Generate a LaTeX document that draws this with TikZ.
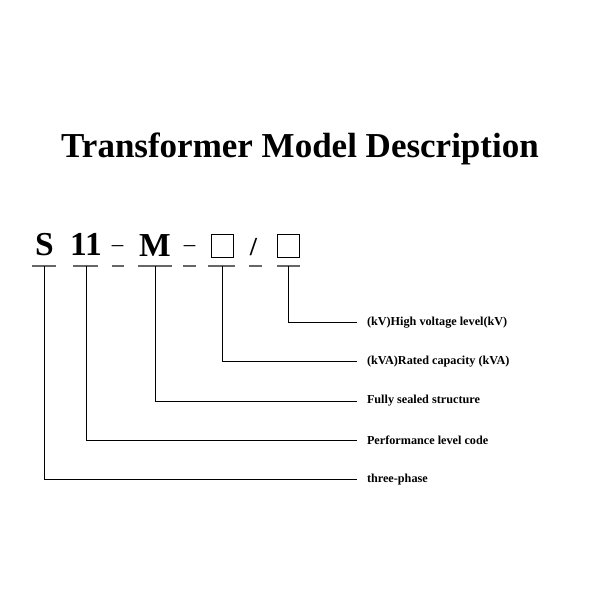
\documentclass[tikz,border=0pt]{standalone}
\usepackage{fontspec}
\setmainfont{Liberation Serif}
\begin{document}
\begin{tikzpicture}[x=1pt,y=-1pt,
  title/.style={font=\fontsize{35}{40}\selectfont\bfseries, inner sep=0pt, anchor=base},
  code/.style={font=\fontsize{33.5}{38}\selectfont\bfseries, inner sep=0pt, anchor=base},
  sym/.style={font=\fontsize{23}{27}\selectfont, inner sep=0pt, anchor=base},
  slot/.style={draw, line width=0.8pt, minimum width=22pt, minimum height=23pt, inner sep=0pt},
  under/.style={draw=black!60, line width=1.6pt},
  conn/.style={draw, line width=0.8pt},
  label/.style={font=\fontsize{12.2}{14}\selectfont\bfseries, inner xsep=0pt, inner ysep=1pt, outer xsep=10pt, anchor=west}
]
\useasboundingbox (0,0) rectangle (600,600);
\node[title] (t) at (300,157) {Transformer Model Description};
% code row
\node[code] (s) at (44.5,255) {S};
\node[code] (n11) at (86,255) {11};
\node[sym] (d1) at (117.5,251.5) {–};
\node[code] (m) at (155,256) {M};
\node[sym] (d2) at (189.5,251.5) {–};
\node[slot] (b1) at (222,245.5) {};
\node[sym, font=\fontsize{26}{30}\selectfont\bfseries] (sl) at (253.5,255.5) {/};
\node[slot] (b2) at (288,245.5) {};
% underscores
\coordinate (us) at (44,266);
\coordinate (un) at (86,266);
\coordinate (um) at (155,266);
\coordinate (ub1) at (222,266);
\coordinate (ub2) at (288,266);
\draw[under] (32,266) -- (56,266);
\draw[under] (73,266) -- (98,266);
\draw[under] (112,266) -- (124,266);
\draw[under] (138,266) -- (172,266);
\draw[under] (183,266) -- (196,266);
\draw[under] (208,266) -- (235,266);
\draw[under] (249,266) -- (262,266);
\draw[under] (277,266) -- (300,266);
% labels
\node[label] (l1) at (357,322.5) {(kV)High voltage level(kV)};
\node[label] (l2) at (357,361.5) {(kVA)Rated capacity (kVA)};
\node[label] (l3) at (357,401) {Fully sealed structure};
\node[label] (l4) at (357,440) {Performance level code};
\node[label] (l5) at (357,479.5) {three-phase};
% connectors
\draw[conn] (ub2) |- (l1.west);
\draw[conn] (ub1) |- (l2.west);
\draw[conn] (um) |- (l3.west);
\draw[conn] (un) |- (l4.west);
\draw[conn] (us) |- (l5.west);
\end{tikzpicture}
\end{document}
